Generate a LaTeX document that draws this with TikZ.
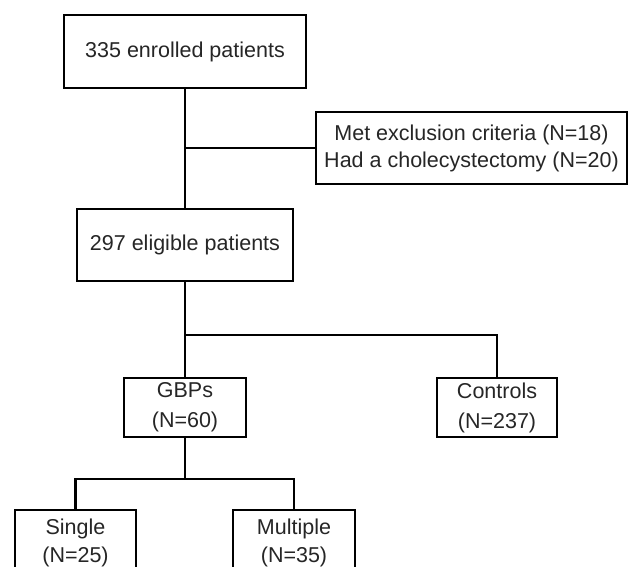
\documentclass[tikz,border=0pt]{standalone}
\usepackage{fontspec}
\setmainfont{Liberation Sans}
\definecolor{txt}{HTML}{262626}
\begin{document}
\begin{tikzpicture}[x=1pt,y=-1pt,
  box/.style={draw=black, line width=2.4pt, fill=white, inner sep=0pt, align=center,
    text=txt, font=\fontsize{21.5}{28}\selectfont},
  conn/.style={draw=black, line width=2.4pt}]
\useasboundingbox (0,0) rectangle (631,566);
\clip (0,0) rectangle (631,566);
\node[box, minimum width=242pt, minimum height=73pt] (b1) at (185,51.5) {335 enrolled patients};
\node[box, minimum width=311pt, minimum height=72pt, font=\fontsize{21.5}{27}\selectfont] (excl) at (471.5,148) {Met exclusion criteria (N=18)\\Had a cholecystectomy (N=20)};
\node[box, minimum width=216pt, minimum height=72pt] (b2) at (185,245) {297 eligible patients};
\node[box, minimum width=122pt, minimum height=59pt, font=\fontsize{21.5}{30}\selectfont] (gbp) at (185,407.5) {GBPs\\(N=60)};
\node[box, minimum width=120pt, minimum height=59pt, font=\fontsize{21.5}{30}\selectfont] (ctrl) at (497,407.5) {Controls\\(N=237)};
\node[box, minimum width=121pt, minimum height=66pt] (single) at (75.5,543) {Single\\(N=25)};
\node[box, minimum width=122pt, minimum height=66pt] (multi) at (294,543) {Multiple\\(N=35)};
\coordinate (j1) at (185,148);
\coordinate (j2) at (185,335);
\coordinate (j3) at (185,479);
\draw[conn] (b1.south) -- (b2.north);
\draw[conn] (j1) -- (excl.west);
\draw[conn] (b2.south) -- (gbp.north);
\draw[conn] (j2) -| (ctrl.north);
\draw[conn] (gbp.south) -- (j3);
\draw[conn] (single.north) |- (j3) -| (multi.north);
\end{tikzpicture}
\end{document}
